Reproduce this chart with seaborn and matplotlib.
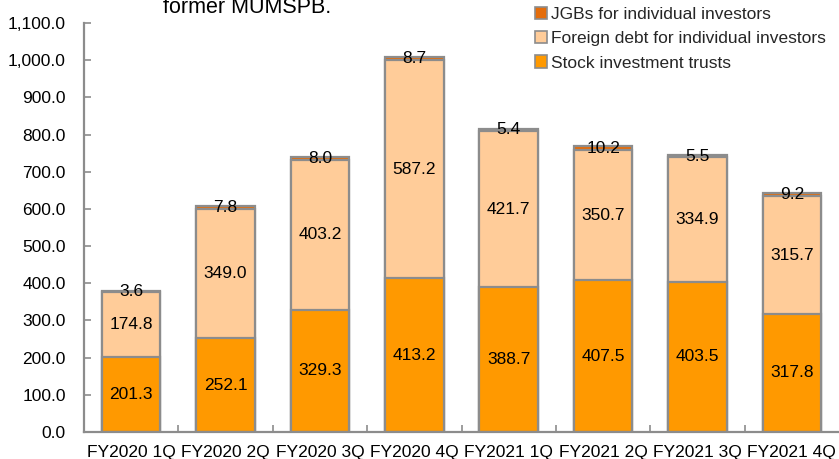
import matplotlib
matplotlib.use("Agg")
import matplotlib.pyplot as plt
from matplotlib.patches import Patch
from matplotlib.ticker import FuncFormatter, MultipleLocator, FixedLocator
import numpy as np
import seaborn as sns

# Quarterly sales balance by product (100 million yen)
quarters = ["FY2020 1Q", "FY2020 2Q", "FY2020 3Q", "FY2020 4Q",
            "FY2021 1Q", "FY2021 2Q", "FY2021 3Q", "FY2021 4Q"]
stock_trusts = [201.3, 252.1, 329.3, 413.2, 388.7, 407.5, 403.5, 317.8]
foreign_debt = [174.8, 349.0, 403.2, 587.2, 421.7, 350.7, 334.9, 315.7]
jgbs = [3.6, 7.8, 8.0, 8.7, 5.4, 10.2, 5.5, 9.2]

series_names = ["JGBs for individual investors",
                "Foreign debt for individual investors",
                "Stock investment trusts"]

c_jgb = "#E46C0A"
c_foreign = "#FFCC99"
c_stock = "#FF9900"
edge = "#8C8C8C"

sns.set_theme(style="white")
plt.rcParams["font.family"] = ["Liberation Sans", "DejaVu Sans"]

fig = plt.figure(figsize=(8.39, 4.59), dpi=100)
ax = fig.add_axes([84 / 839, 27 / 459, 1 - 84 / 839, (432 - 23) / 459])

stock = np.array(stock_trusts)
foreign = np.array(foreign_debt)
jgb = np.array(jgbs)
lower2 = stock + foreign
total = lower2 + jgb

bar_kw = dict(width=0.62, saturation=1, edgecolor=edge, linewidth=1.6, ax=ax)
sns.barplot(x=quarters, y=total, color=c_jgb, **bar_kw)
sns.barplot(x=quarters, y=lower2, color=c_foreign, **bar_kw)
sns.barplot(x=quarters, y=stock, color=c_stock, **bar_kw)

lbl = dict(ha="center", va="center", fontsize=12.5, color="black")
for i in range(len(quarters)):
    ax.text(i, stock[i] / 2, f"{stock[i]:.1f}", **lbl)
    ax.text(i, stock[i] + foreign[i] / 2, f"{foreign[i]:.1f}", **lbl)
    ax.text(i, lower2[i] + jgb[i] / 2, f"{jgb[i]:.1f}", **lbl)

ax.set_xlim(-0.5, len(quarters) - 0.5)
ax.set_ylim(0, 1100)
ax.yaxis.set_major_locator(MultipleLocator(100))
ax.yaxis.set_major_formatter(FuncFormatter(lambda v, p: f"{v:,.1f}"))
ax.xaxis.set_minor_locator(FixedLocator(np.arange(0.5, len(quarters) - 0.5, 1)))

for s in ["top", "right"]:
    ax.spines[s].set_visible(False)
for s in ["left", "bottom"]:
    ax.spines[s].set_color(edge)
    ax.spines[s].set_linewidth(1.6)

ax.tick_params(axis="y", which="major", direction="in", length=5, width=1.2,
               color=edge, labelsize=12.5, labelcolor="black", pad=13, left=True)
ax.tick_params(axis="x", which="major", length=0, labelsize=12.5,
               labelcolor="black", pad=9)
ax.tick_params(axis="x", which="minor", direction="in", length=5, width=1.2,
               color=edge, bottom=True)
ax.set_xlabel("")
ax.set_ylabel("")

handles = [Patch(facecolor=c, edgecolor=edge, linewidth=1.2)
           for c in (c_jgb, c_foreign, c_stock)]
fig.legend(handles, series_names, loc="upper left",
           bbox_to_anchor=(535 / 839, 1 - 7 / 459), frameon=False,
           fontsize=12.5, handlelength=0.7, handleheight=0.7,
           handletextpad=0.25, labelspacing=0.52, borderpad=0,
           borderaxespad=0)

fig.text(163 / 839, 1 - 13 / 459, "former MUMSPB.", fontsize=15.5,
         ha="left", va="baseline", color="black")

fig.savefig("out.png", dpi=100)
